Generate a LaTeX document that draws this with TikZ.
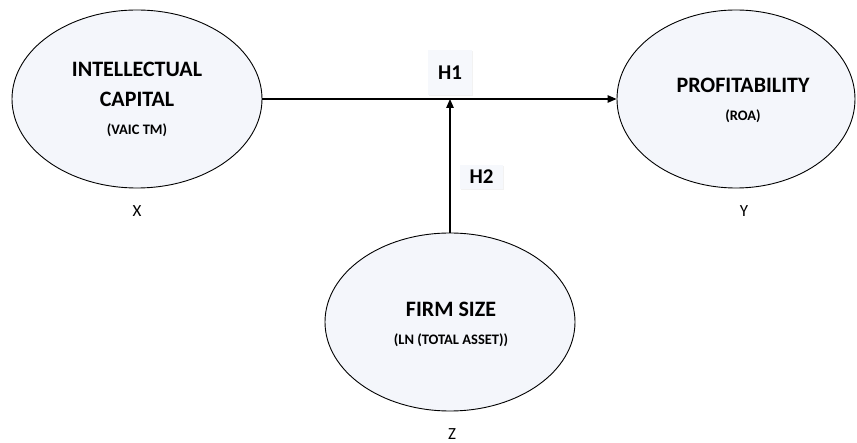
\documentclass[tikz,border=0pt]{standalone}
\usepackage{fontspec}
\setmainfont{Carlito}
\usetikzlibrary{shapes.geometric, arrows.meta, positioning, shadows}
\definecolor{cellfill}{HTML}{F4F6FB}
\definecolor{hfill}{HTML}{F6F8FC}

\begin{document}
\begin{tikzpicture}[x=1pt, y=-1pt,
  latent/.style={ellipse, draw, line width=0.9pt, inner sep=0pt,
    minimum width=250pt, minimum height=178pt, fill=cellfill},
  title/.style={anchor=base, font=\fontsize{22}{26}\selectfont\bfseries},
  sub/.style={anchor=base, font=\fontsize{14.5}{17}\selectfont\bfseries},
  varname/.style={anchor=base, font=\fontsize{17}{20}\selectfont},
  hyp/.style={fill=hfill, inner sep=0pt, font=\fontsize{21}{24}\selectfont\bfseries,
    drop shadow={opacity=0.1, shadow xshift=1pt, shadow yshift=-1pt}},
  link/.style={line width=1.2pt, -{Triangle[length=9pt, width=7.5pt]}}]
\useasboundingbox (0,0) rectangle (857,443);

% latent variables
\node[latent] (ic) at (137,99) {};
\node[latent, minimum width=238pt] (prof) at (736,99) {};
\node[latent] (fs) at (450,322) {};

% texts inside the ellipses
\node[title] (ictop) at (137,77) {INTELLECTUAL};
\node[title] (icmid) at (137,107) {CAPITAL};
\node[sub] (icsub) at (137,135) {(VAIC TM)};
\node[title] (proftop) at (743,93) {PROFITABILITY};
\node[sub] (profsub) at (743,121) {(ROA)};
\node[title] (fstop) at (451,317) {FIRM SIZE};
\node[sub] (fssub) at (451,345) {(LN (TOTAL ASSET))};

% variable names
\node[varname] (xname) at (137,217) {X};
\node[varname] (yname) at (744,217) {Y};
\node[varname] (zname) at (452,440) {Z};

% paths
\coordinate (join) at (450,99);
\draw[link] (ic.east) -- (prof.west);
\draw[link] (fs.north) -- (join);

% hypotheses
\node[hyp, minimum width=44pt, minimum height=45pt] (hone) at (450,72.5) {H1};
\node[hyp, minimum width=43pt, minimum height=24pt] (htwo) at (481.5,177) {H2};
\end{tikzpicture}
\end{document}
